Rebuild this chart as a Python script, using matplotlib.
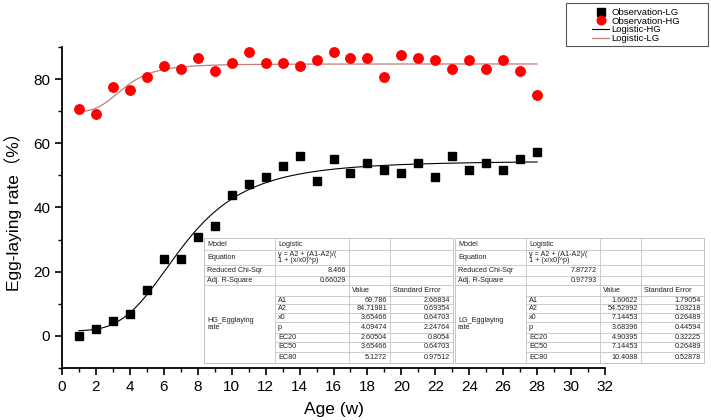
import numpy as np
import matplotlib
matplotlib.use("Agg")
import matplotlib.pyplot as plt
from matplotlib.lines import Line2D

plt.rcParams["font.family"] = ["Liberation Sans", "Noto Sans CJK SC", "DejaVu Sans"]

# ---- data ----
AGE = list(range(1, 29))
LG_RATE = [0.0, 2.2, 4.5, 6.8, 14.2, 24.1, 24.1, 30.8, 34.2, 44.0, 47.4, 49.5, 52.9, 56.1,
           48.4, 55.0, 50.7, 53.9, 51.7, 50.7, 53.9, 49.5, 56.1, 51.7, 53.9, 51.7, 55.0, 57.2]
HG_RATE = [70.7, 69.1, 77.4, 76.5, 80.8, 84.2, 83.3, 86.7, 82.5, 85.0, 88.4, 85.0, 85.0, 84.2,
           85.9, 88.4, 86.7, 86.7, 80.8, 87.5, 86.7, 85.9, 83.3, 85.9, 83.3, 85.9, 82.5, 74.9]

# logistic fit parameters (A1, A2, x0, p)
HG_FIT = (69.786, 84.71981, 3.65466, 4.09474)
LG_FIT = (1.60622, 54.52992, 7.14453, 3.68396)

PARAM_NAMES = ["A1", "A2", "x0", "p", "EC20", "EC50", "EC80"]
HG_VALUES = ["69.786", "84.71981", "3.65466", "4.09474", "2.60504", "3.65466", "5.1272"]
HG_ERRORS = ["2.66834", "0.69354", "0.64703", "2.24764", "0.8054", "0.64703", "0.97512"]
LG_VALUES = ["1.60622", "54.52992", "7.14453", "3.68396", "4.90395", "7.14453", "10.4088"]
LG_ERRORS = ["1.79054", "1.03218", "0.26489", "0.44594", "0.32225", "0.26489", "0.52878"]
HG_STATS = ("8.466", "0.66029")
LG_STATS = ("7.87272", "0.97793")


def logistic(x, a1, a2, x0, p):
    return a2 + (a1 - a2) / (1 + (x / x0) ** p)


fig = plt.figure(figsize=(7.11, 4.20), dpi=100)
ax = fig.add_axes([62 / 711, 1 - 368 / 420, (605 - 62) / 711, (368 - 47) / 420])

xs = np.linspace(AGE[0], AGE[-1], 400)
red_line = "#c47a7a"
ax.plot(xs, logistic(xs, *LG_FIT), color="black", lw=0.8, zorder=2)
ax.plot(xs, logistic(xs, *HG_FIT), color=red_line, lw=0.9, zorder=2)
ax.plot(AGE, LG_RATE, ls="none", marker="s", ms=6, color="black", zorder=3)
ax.plot(AGE, HG_RATE, ls="none", marker="o", ms=6.8, color="#ff0000", mec="#ff0000", zorder=3)

ax.set_xlim(0, 32)
ax.set_ylim(-10, 90)
ax.set_xticks(range(0, 33, 2))
ax.set_xticks(range(0, 33, 1), minor=True)
ax.set_yticks(range(0, 81, 20))
ax.set_yticks(range(-10, 91, 10), minor=True)
for s in ("top", "right"):
    ax.spines[s].set_visible(False)
for s in ("left", "bottom"):
    ax.spines[s].set_linewidth(1.3)
ax.tick_params(which="major", length=5, width=1.2, labelsize=11)
ax.tick_params(which="minor", length=3, width=1.0)
ax.set_xlabel("Age (w)", fontsize=12.5, labelpad=6)
ax.set_ylabel("Egg-laying rate（%）", fontsize=12.5, labelpad=8)

# overlay in pixel coordinates for the legend frame and the fit tables
ov = fig.add_axes([0, 0, 1, 1])
ov.set_xlim(0, 711)
ov.set_ylim(420, 0)
ov.axis("off")

handles = [
    Line2D([], [], ls="none", marker="s", ms=5.5, color="black"),
    Line2D([], [], ls="none", marker="o", ms=6.2, color="#ff0000"),
    Line2D([], [], color="black", lw=0.8),
    Line2D([], [], color=red_line, lw=0.9),
]
labels = ["Observation-LG", "Observation-HG", "Logistic-HG", "Logistic-LG"]
leg = fig.legend(handles, labels, loc="upper left", bbox_to_anchor=(592 / 711, 1 - 8 / 420),
                 fontsize=6.8, frameon=False, borderpad=0.0, labelspacing=-0.04,
                 handlelength=1.8, handletextpad=0.25, borderaxespad=0.0)
ov.add_patch(plt.Rectangle((566, 3), 142, 43, facecolor="none", edgecolor="#555555", lw=0.8))

ROW_EDGES = [238, 250, 265, 276, 285, 296, 304, 312.5, 322, 333, 342, 352, 363]
TXT = dict(fontsize=5.2, color="#222222", va="center")
GRID = "#c4c4c4"


def draw_table(x0, name, stats, values, errors):
    cols = [x0, x0 + 71, x0 + 145, x0 + 186, x0 + 249]
    top, bot = ROW_EDGES[0], ROW_EDGES[-1]
    ov.add_patch(plt.Rectangle((cols[0], top), cols[-1] - cols[0], bot - top,
                               facecolor="white", edgecolor=GRID, lw=0.7, zorder=4))
    for c in cols[1:-1]:
        ov.plot([c, c], [top, bot], color=GRID, lw=0.6, zorder=5)
    for i, y in enumerate(ROW_EDGES[1:-1], start=1):
        x_start = cols[0] if i <= 4 else cols[1]
        ov.plot([x_start, cols[-1]], [y, y], color=GRID, lw=0.6, zorder=5)

    def mid(i):
        return (ROW_EDGES[i] + ROW_EDGES[i + 1]) / 2

    pad = 3
    ov.text(cols[0] + pad, mid(0), "Model", zorder=6, **TXT)
    ov.text(cols[1] + pad, mid(0), "Logistic", zorder=6, **TXT)
    ov.text(cols[0] + pad, mid(1), "Equation", zorder=6, **TXT)
    ov.text(cols[1] + pad, mid(1), "y = A2 + (A1-A2)/(\n1 + (x/x0)^p)",
            linespacing=0.95, zorder=6, **TXT)
    ov.text(cols[0] + pad, mid(2), "Reduced Chi-Sqr", zorder=6, **TXT)
    ov.text(cols[2] - pad, mid(2), stats[0], ha="right", zorder=6, **TXT)
    ov.text(cols[0] + pad, mid(3), "Adj. R-Square", zorder=6, **TXT)
    ov.text(cols[2] - pad, mid(3), stats[1], ha="right", zorder=6, **TXT)
    ov.text(cols[2] + pad, mid(4), "Value", zorder=6, **TXT)
    ov.text(cols[3] + pad, mid(4), "Standard Error", zorder=6, **TXT)
    ov.text(cols[0] + pad, (ROW_EDGES[4] + bot) / 2, name, linespacing=0.95, zorder=6, **TXT)
    for k, (pn, v, e) in enumerate(zip(PARAM_NAMES, values, errors)):
        y = mid(5 + k)
        ov.text(cols[1] + pad, y, pn, zorder=6, **TXT)
        ov.text(cols[3] - pad, y, v, ha="right", zorder=6, **TXT)
        ov.text(cols[4] - pad, y, e, ha="right", zorder=6, **TXT)


draw_table(204, "HG_Egglaying\nrate", HG_STATS, HG_VALUES, HG_ERRORS)
draw_table(455, "LG_Egglaying\nrate", LG_STATS, LG_VALUES, LG_ERRORS)

fig.savefig("out.png", dpi=100)
